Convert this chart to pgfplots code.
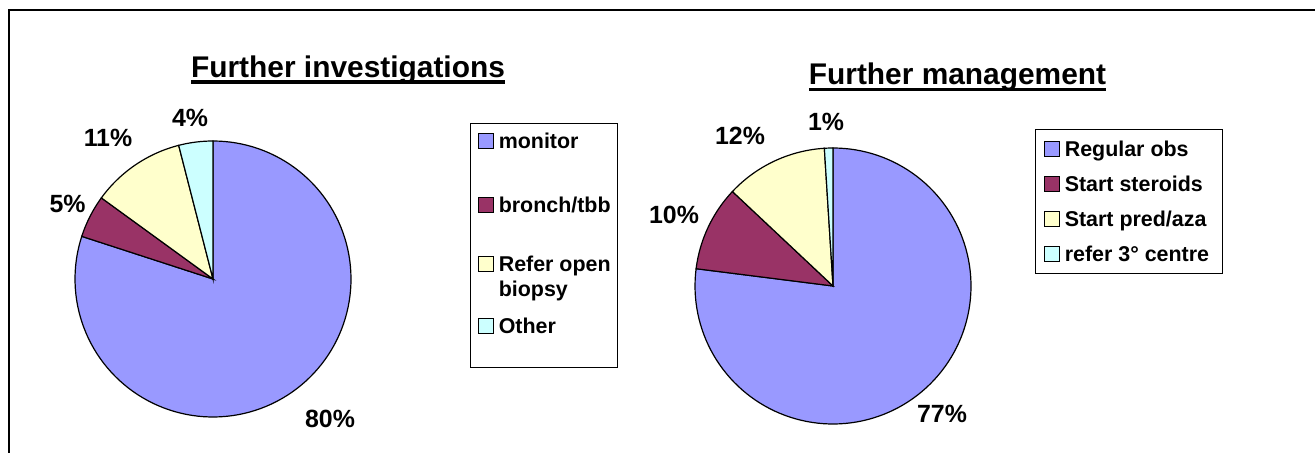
\documentclass[border=0pt]{standalone}
\usepackage{pgfplots}
\pgfplotsset{compat=1.18}
\usepackage{fontspec}
\setmainfont{Liberation Sans}
\definecolor{c1}{HTML}{9999FF}
\definecolor{c2}{HTML}{993366}
\definecolor{c3}{HTML}{FFFFCC}
\definecolor{c4}{HTML}{CCFFFF}
\newcommand\ultitle[3]{\setbox0\hbox{#1}\rlap{\rule[#2]{\wd0}{#3}}\box0}
\pgfplotsset{
  pie/.style={hide axis, x=1bp, y=1bp, xmin=-140, xmax=140, ymin=-140, ymax=140,
    anchor=center, clip=false,
    legend image code/.code={\draw[##1] (0bp,0bp) rectangle (15bp,15bp);}},
  sl/.style={draw=black, line width=1.2bp, mark=none, variable=\t, samples=120}
}
\begin{document}
\begin{tikzpicture}[x=1bp,y=-1bp]
\path[use as bounding box] (0,0) rectangle (1315,453);
\draw[line width=1.5bp] (9,453) -- (9,10) -- (1315,10);

% Left pie: monitor 80, bronch/tbb 5, Refer open biopsy 11, Other 4
\begin{axis}[pie, at={(213bp,-279bp)},
  legend style={at={(1.4179,1.0571)}, anchor=north west, draw=black, line width=1.2bp,
    inner xsep=7bp, inner ysep=0bp, row sep=0pt, column sep=5bp,
    font=\fontsize{21.5}{25}\selectfont\bfseries,
    cells={anchor=base west}, nodes={inner sep=0pt, text depth=, text height=}}]
\addplot[sl, fill=c1, domain=-198:90] ({138*cos(\t)},{138*sin(\t)}) -- (axis cs:0,0) -- cycle;
\addlegendentry{\makebox[111.8bp][l]{\rule[-32bp]{0pt}{57bp}monitor}}
\addplot[sl, fill=c2, domain=-216:-198, samples=20] ({138*cos(\t)},{138*sin(\t)}) -- (axis cs:0,0) -- cycle;
\addlegendentry{\makebox[111.8bp][l]{\rule[-27bp]{0pt}{59bp}bronch/tbb}}
\addplot[sl, fill=c3, domain=-255.6:-216, samples=30] ({138*cos(\t)},{138*sin(\t)}) -- (axis cs:0,0) -- cycle;
\addlegendentry{\parbox[t]{111.8bp}{\rule{0pt}{32bp}Refer open\\biopsy\rule[-5bp]{0pt}{5bp}}}
\addplot[sl, fill=c4, domain=-270:-255.6, samples=15] ({138*cos(\t)},{138*sin(\t)}) -- (axis cs:0,0) -- cycle;
\addlegendentry{\makebox[111.8bp][l]{\rule[-34bp]{0pt}{66bp}Other}}
\end{axis}

% Right pie: Regular obs 77, Start steroids 10, Start pred/aza 12, refer 3 centre 1
\begin{axis}[pie, at={(833bp,-286bp)},
  legend style={at={(1.2214,1.0625)}, anchor=north west, draw=black, line width=1.2bp,
    inner xsep=8bp, inner ysep=0bp, row sep=0pt, column sep=5bp,
    font=\fontsize{21.5}{25}\selectfont\bfseries,
    cells={anchor=base west}, nodes={inner sep=0pt, text depth=, text height=}}]
\addplot[sl, fill=c1, domain=-187.2:90] ({138*cos(\t)},{138*sin(\t)}) -- (axis cs:0,0) -- cycle;
\addlegendentry{\makebox[149.8bp][l]{\rule[-12bp]{0pt}{39bp}Regular obs}}
\addplot[sl, fill=c2, domain=-223.2:-187.2, samples=30] ({138*cos(\t)},{138*sin(\t)}) -- (axis cs:0,0) -- cycle;
\addlegendentry{\makebox[149.8bp][l]{\rule[-12bp]{0pt}{35bp}Start steroids}}
\addplot[sl, fill=c3, domain=-266.4:-223.2, samples=30] ({138*cos(\t)},{138*sin(\t)}) -- (axis cs:0,0) -- cycle;
\addlegendentry{\makebox[149.8bp][l]{\rule[-12bp]{0pt}{35bp}Start pred/aza}}
\addplot[sl, fill=c4, domain=-270:-266.4, samples=5] ({138*cos(\t)},{138*sin(\t)}) -- (axis cs:0,0) -- cycle;
\addlegendentry{\makebox[149.8bp][l]{\rule[-12.5bp]{0pt}{35.5bp}refer 3° centre}}
\end{axis}

% Titles
\node[anchor=base, inner sep=0pt, font=\fontsize{30}{36}\selectfont\bfseries] at (348,78)
  {\ultitle{Further investigations}{-6bp}{3.6bp}};
\node[anchor=base, inner sep=0pt, font=\fontsize{30}{36}\selectfont\bfseries] at (957.5,85)
  {\ultitle{Further management}{-6.5bp}{3.6bp}};

% Percentage labels
\begin{scope}[every node/.style={anchor=base, inner sep=0pt, font=\fontsize{25}{30}\selectfont\bfseries}]
\node at (330,427) {80\%};
\node at (67.5,213) {5\%};
\node at (108,147) {11\%};
\node at (190,127) {4\%};
\node at (942,422) {77\%};
\node at (674,224) {10\%};
\node at (740,145) {12\%};
\node at (826,131) {1\%};
\end{scope}
\end{tikzpicture}
\end{document}
